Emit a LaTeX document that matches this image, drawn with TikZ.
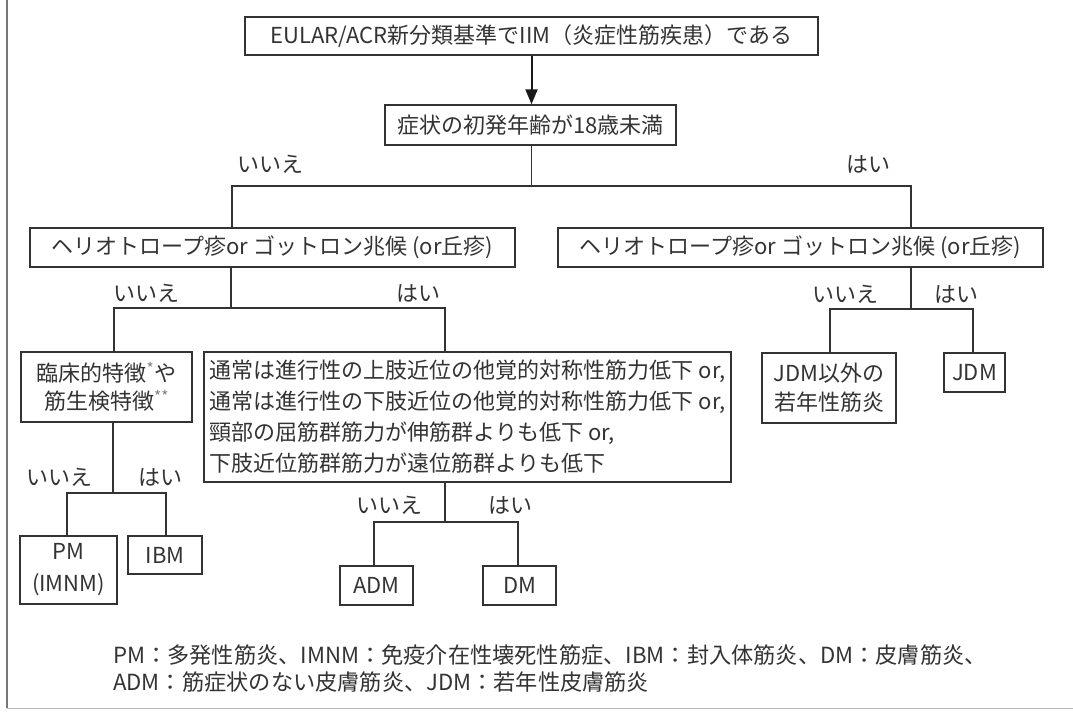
\documentclass[tikz,border=0pt]{standalone}
\usepackage{fontspec}
\setmainfont{Noto Sans CJK JP}
\usetikzlibrary{arrows.meta}
\definecolor{ink}{HTML}{333333}
\definecolor{frameline}{HTML}{777777}
\begin{document}
\begin{tikzpicture}[x=1pt,y=-1pt,
  box/.style={draw=ink, line width=1.4pt, inner sep=0pt, text=ink,
    font=\fontsize{22}{30}\selectfont, align=center},
  lab/.style={text=ink, font=\fontsize{22}{26}\selectfont, inner sep=0pt},
  note/.style={text=ink, font=\fontsize{22.2}{27}\selectfont, inner sep=0pt, anchor=west},
  conn/.style={draw=ink, line width=1.4pt},
]
\useasboundingbox (0,0) rectangle (1073,714);
\fill[white] (0,0) rectangle (1073,714);
% frame
\draw[frameline, line width=1.5pt] (7,0) -- (7,708);
\draw[frameline!50, line width=1pt] (7,708) -- (1073,708);

% boxes
\node[box, minimum width=573pt, minimum height=38pt] (b1) at (531.5,36) {EULAR/ACR新分類基準でIIM（炎症性筋疾患）である};
\node[box, minimum width=291pt, minimum height=40pt] (b2) at (530.5,125) {症状の初発年齢が18歳未満};
\node[box, minimum width=485pt, minimum height=39pt] (b3) at (272.5,247.5) {ヘリオトロープ疹or ゴットロン兆候 (or丘疹)};
\node[box, minimum width=485pt, minimum height=39pt] (b4) at (800.5,247.5) {ヘリオトロープ疹or ゴットロン兆候 (or丘疹)};
\node[box, minimum width=171pt, minimum height=70pt, font=\fontsize{22}{28}\selectfont] (b5) at (106.5,387) {臨床的特徴\textsuperscript{\color{gray}*}や\\筋生検特徴\textsuperscript{\color{gray}**}};
\node[box, minimum width=527pt, minimum height=130pt, align=left, font=\fontsize{22}{31}\selectfont] (b6) at (467.5,417) {通常は進行性の上肢近位の他覚的対称性筋力低下 or,\\通常は進行性の下肢近位の他覚的対称性筋力低下 or,\\頸部の屈筋群筋力が伸筋群よりも低下 or,\\下肢近位筋群筋力が遠位筋群よりも低下};
\node[box, minimum width=134pt, minimum height=70pt, font=\fontsize{22}{29}\selectfont] (b7) at (829,388) {JDM以外の\\若年性筋炎};
\node[box, minimum width=61pt, minimum height=39pt] (b8) at (974.5,372.5) {JDM};
\node[box, minimum width=97pt, minimum height=68pt, font=\fontsize{22}{32}\selectfont] (pm) at (68.5,570) {PM\\(IMNM)};
\node[box, minimum width=74pt, minimum height=38pt] (ibm) at (165,555) {IBM};
\node[box, minimum width=73pt, minimum height=39pt] (adm) at (376.5,585.5) {ADM};
\node[box, minimum width=73pt, minimum height=39pt] (dm) at (519.5,585.5) {DM};

% connectors
\draw[draw=black!90, fill=black!90, line width=2pt, -{Triangle[length=15pt,width=12pt]}] (b1.south) -- (b1.south |- b2.north);

\coordinate (c1) at (232,186);
\coordinate (c2) at (911,186);
\draw[conn] (b1.south |- b2.south) -- (b1.south |- c1);
\draw[conn] (c1 |- b3.north) -- (c1) -- (c2) -- (c2 |- b4.north);

\coordinate (t3) at (231,308);
\coordinate (d1) at (114,308);
\coordinate (d2) at (445,308);
\draw[conn] (t3 |- b3.south) -- (t3);
\draw[conn] (d1 |- b5.north) -- (d1) -- (d2) -- (d2 |- b6.north);

\coordinate (t4) at (911,309);
\coordinate (e1) at (830,309);
\coordinate (e2) at (973,309);
\draw[conn] (t4 |- b4.south) -- (t4);
\draw[conn] (e1 |- b7.north) -- (e1) -- (e2) -- (e2 |- b8.north);

\coordinate (t5) at (113,493);
\coordinate (f1) at (67,493);
\coordinate (f2) at (166,493);
\draw[conn] (t5 |- b5.south) -- (t5);
\draw[conn] (f1 |- pm.north) -- (f1) -- (f2) -- (f2 |- ibm.north);

\coordinate (t6) at (445,522);
\coordinate (g1) at (374,522);
\coordinate (g2) at (518,522);
\draw[conn] (t6 |- b6.south) -- (t6);
\draw[conn] (g1 |- adm.north) -- (g1) -- (g2) -- (g2 |- dm.north);

% labels
\node[lab] (l1) at (270,164) {いいえ};
\node[lab] (l2) at (868,164) {はい};
\node[lab] (l3) at (146,293) {いいえ};
\node[lab] (l4) at (418,293) {はい};
\node[lab] (l5) at (845,294) {いいえ};
\node[lab] (l6) at (956,294) {はい};
\node[lab] (l7) at (60,477) {いいえ};
\node[lab] (l8) at (160,477) {はい};
\node[lab] (l9) at (389,505) {いいえ};
\node[lab] (l10) at (510,505) {はい};

% footnote
\node[note] (n1) at (113,655) {PM：多発性筋炎、IMNM：免疫介在性壊死性筋症、IBM：封入体筋炎、DM：皮膚筋炎、};
\node[note] (n2) at (113,682) {ADM：筋症状のない皮膚筋炎、JDM：若年性皮膚筋炎};
\end{tikzpicture}
\end{document}
